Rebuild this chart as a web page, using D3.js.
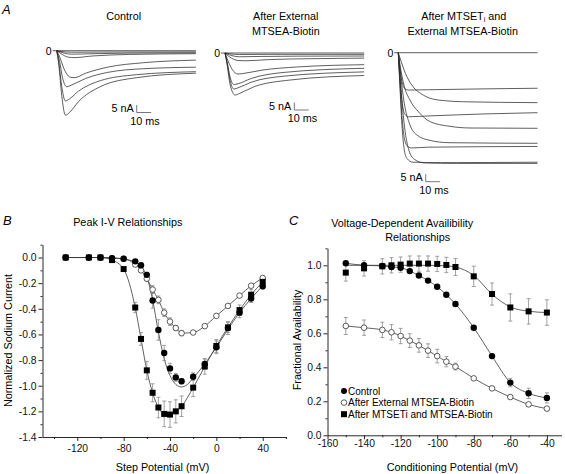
<!DOCTYPE html>
<html><head><meta charset="utf-8">
<script src="https://cdn.jsdelivr.net/npm/d3@7"></script>
<style>body{margin:0;background:#fff}svg{display:block}</style>
</head><body>
<svg id="c" width="565" height="474"></svg>
<script>
// ---------- DATA ----------
// Panel A: current traces [time ms, current nA]
const controlTraces = [
  [[0,0],[96,0]],
  [[0,0],[3,-0.5],[10,-1],[30,-0.9],[96,-0.8]],
  [[0,0],[3,-1],[10,-2.3],[25,-2],[50,-1.6],[96,-1.4]],
  [[0,0],[3,-2],[8,-4.3],[12,-4.6],[25,-3.5],[50,-2.5],[96,-2]],
  [[0,0],[2,-4],[5,-12],[9,-17.5],[12,-18],[20,-15],[35,-11],[60,-8],[96,-6.3]],
  [[0,0],[2,-7],[4,-18],[7,-24],[10,-23],[20,-18.5],[35,-14.5],[60,-12],[96,-11]],
  [[0,0],[1.5,-8],[3.5,-24],[6,-33.5],[9,-32],[15,-27],[30,-20],[55,-16],[96,-14]],
  [[0,0],[1.5,-10],[3.5,-30],[6,-43],[9,-41],[15,-34],[30,-24],[55,-18],[96,-15]]
];
const externalTraces = [
  [[0,0],[96,0]],
  [[0,0],[3,-0.5],[10,-1],[30,-0.9],[96,-0.9]],
  [[0,0],[3,-1.2],[10,-2.5],[25,-2.3],[50,-2.1],[96,-2]],
  [[0,0],[3,-2.5],[9,-5],[14,-5.2],[30,-4.4],[60,-3.8],[96,-3.4]],
  [[0,0],[2,-5],[5,-11],[9,-14],[13,-13.6],[25,-11.5],[50,-9.3],[96,-7.8]],
  [[0,0],[1.5,-6],[3.5,-16],[6,-21],[9,-20.5],[18,-17],[40,-13],[96,-10.2]],
  [[0,0],[1.5,-7],[3.5,-18],[6,-24],[9,-23.2],[18,-19.5],[40,-15.5],[96,-12.6]],
  [[0,0],[1.5,-8],[3.5,-21],[7,-28],[10,-27],[20,-22.5],[45,-18],[96,-15]]
];
const mtsetTraces = [
  [[0,0],[96,0]],
  [[0,0],[1,-9],[2.5,-19],[4.5,-24],[7,-24.9],[20,-24.7],[60,-24.1],[96,-23.7]],
  [[0,0],[2,-6],[5,-14],[10,-22.5],[16,-27.5],[22,-30.4],[32,-32],[45,-32.7],[96,-33.3]],
  [[0,0],[1,-15],[2.5,-32],[4.5,-41],[7,-42.7],[20,-42.2],[60,-40.8],[96,-40]],
  [[0,0],[1.5,-10],[4,-22],[8,-31.5],[14,-39.5],[22,-46],[35,-49],[50,-50.2],[96,-50.4]],
  [[0,0],[1.5,-14],[4,-33],[8,-48],[13,-55],[22,-58.5],[35,-60],[96,-60.4]],
  [[0,0],[1,-18],[2.5,-42],[4,-56],[6,-62],[9,-63.5],[20,-63],[96,-62.5]],
  [[0,0],[1,-20],[2.5,-48],[4,-64],[6,-70.5],[10,-73],[30,-73.3],[96,-73]],
  [[0,0],[1.5,-20],[4,-47],[7,-64],[11,-71],[18,-73.5],[40,-73.8],[96,-73.8]]
];

// Panel B: Peak I-V
const ivVoltage   = [-130,-110,-100,-90,-80,-70,-65,-60,-55,-50,-45,-40,-35,-30,-20,-10,0,10,20,30,40];
const ivControl   = [0,0,0,-0.005,-0.01,-0.03,-0.06,-0.135,-0.335,-0.565,-0.745,-0.865,-0.935,-0.965,-0.93,-0.83,-0.70,-0.55,-0.43,-0.32,-0.225];
const ivControlErr= [0,0,0,0,0,0,0.01,0.02,0.06,0.08,0.06,0.04,0.03,0.02,0.03,0.04,0.05,0.05,0.04,0.03,0.02];
const ivExternal  = [0,0,0,-0.005,-0.01,-0.055,-0.1,-0.165,-0.25,-0.33,-0.43,-0.5,-0.55,-0.59,-0.585,-0.535,-0.455,-0.378,-0.297,-0.22,-0.16];
const ivExternalErr=[0,0,0,0,0,0.01,0.01,0.02,0.03,0.03,0.03,0.03,0.02,0.02,0.01,0.01,0.01,0.01,0.01,0.01,0.01];
const ivMtset     = [0,0,0,-0.02,-0.09,-0.39,-0.635,-0.88,-1.055,-1.17,-1.22,-1.225,-1.2,-1.16,-1.015,-0.85,-0.69,-0.545,-0.41,-0.29,-0.19];
const ivMtsetErr  = [0,0,0,0,0.01,0.04,0.05,0.07,0.07,0.08,0.1,0.1,0.09,0.08,0.07,0.06,0.05,0.04,0.04,0.04,0.03];
const ivFitVoltage= [-130,-100,-90,-80,-75,-70,-65,-60,-55,-50,-45,-40,-35,-30,-25,-20,-10,0,10,20,30,40];
const ivControlFit= [0,0,-0.003,-0.01,-0.02,-0.035,-0.07,-0.15,-0.33,-0.58,-0.79,-0.92,-0.99,-1.01,-0.99,-0.94,-0.83,-0.70,-0.56,-0.43,-0.32,-0.22];
const ivXTicks = [-120,-80,-40,0,40];
const ivYTicks = [0,-0.2,-0.4,-0.6,-0.8,-1.0,-1.2,-1.4];

// Panel C: availability
const avVoltage    = [-150,-140,-130,-125,-120,-115,-110,-105,-100,-95,-90,-80,-70,-60,-50,-40];
const avControl    = [1.012,1.0,0.996,0.99,0.986,0.966,0.94,0.91,0.874,0.827,0.772,0.633,0.466,0.31,0.247,0.22];
const avControlErr = [0.01,0.01,0.01,0.01,0.01,0.01,0.01,0.01,0.01,0.01,0.01,0.01,0.01,0.025,0.03,0.03];
const avExternal   = [0.643,0.633,0.62,0.606,0.584,0.557,0.529,0.498,0.466,0.433,0.404,0.335,0.276,0.225,0.182,0.157];
const avExternalErr= [0.05,0.045,0.045,0.045,0.045,0.04,0.04,0.04,0.04,0.03,0.02,0.01,0.01,0.01,0.01,0.01];
const avMtset      = [0.957,0.982,0.994,1.0,1.004,1.01,1.01,1.01,1.008,1.002,0.99,0.935,0.831,0.752,0.729,0.722];
const avMtsetErr   = [0.05,0.045,0.045,0.045,0.045,0.045,0.045,0.045,0.045,0.045,0.05,0.06,0.065,0.08,0.075,0.075];
const avMtsetFit   = [1.0,1.0,1.0,1.0,1.0,1.0,1.0,1.0,0.999,0.997,0.99,0.94,0.83,0.755,0.73,0.722];
const avXTicks = [-160,-140,-120,-100,-80,-60,-40];
const avYTicks = [0,0.2,0.4,0.6,0.8,1.0];
const legendLabels = ["Control","After External MTSEA-Biotin","After MTSETi and MTSEA-Biotin"];

// ---------- DRAWING ----------
const FONT = "'Liberation Sans', Arial, Helvetica, sans-serif";
const svg = d3.select('#c').attr('font-family', FONT);

// Panel letters
[["A",2,14],["B",3,225],["C",289,225]].forEach(([t,x,y]) =>
  svg.append('text').attr('x',x).attr('y',y).attr('font-size',13).attr('font-style','italic').text(t));

function text(x, y, s, size, anchor) {
  return svg.append('text').attr('x',x).attr('y',y).attr('font-size',size)
    .attr('text-anchor',anchor||'middle').attr('dominant-baseline','central').text(s);
}

// ---- Panel A ----
function tracePanel(traces, x0, y0, bar) {
  const x = d3.scaleLinear().domain([0,96]).range([x0, x0 + 139.2]);
  const y = d3.scaleLinear().domain([0,-80]).range([y0, y0 + 120]);
  const line = d3.line().x(d => x(d[0])).y(d => y(d[1])).curve(d3.curveMonotoneX);
  const g = svg.append('g');
  g.selectAll('path').data(traces).join('path')
    .attr('d', line).attr('fill','none').attr('stroke','#2a2a2a').attr('stroke-width',0.75);
  g.append('line').attr('x1',x0-4).attr('x2',x0).attr('y1',y0).attr('y2',y0).attr('stroke','#333').attr('stroke-width',0.8);
  text(x0-5, y0, '0', 10.5, 'end');
  const vb = y(-5) - y(0), hb = x(10) - x(0);
  const [bx, by] = bar;
  g.append('path').attr('d', `M${bx},${by-vb}V${by}H${bx+hb}`).attr('fill','none').attr('stroke','#555').attr('stroke-width',0.8);
  text(bx-3, by - vb/2 - 0.5, '5 nA', 10.8, 'end');
  text(bx + hb/2 + 1, by + 8, '10 ms', 10.8, 'middle');
}
tracePanel(controlTraces, 56.7, 50.7, [136.7, 112.5]);
tracePanel(externalTraces, 225, 53, [294.3, 110]);
tracePanel(mtsetTraces, 398.3, 52.7, [425.7, 181.7]);

text(123.7, 16, 'Control', 10.8);
text(285.8, 16, 'After External', 10.8);
text(285.8, 31, 'MTSEA-Biotin', 10.8);
const t3 = text(463.8, 16, '', 10.8);
t3.append('tspan').text('After MTSET');
t3.append('tspan').attr('font-size',7).attr('dy',3).text('i');
t3.append('tspan').attr('dy',-3).text(' and');
text(462.8, 31, 'External MTSEA-Biotin', 10.8);

// ---- axes helper ----
function axes(x, y, xMaj, xMin, yMaj, yMin, xPad, yPad, xFmt, yFmt) {
  const [x0] = x.range(); const [y0] = y.range();
  const gx = svg.append('g').attr('transform', `translate(0,${y0})`);
  gx.call(d3.axisBottom(x).tickValues(xMin).tickSize(2).tickSizeOuter(0).tickFormat(''));
  gx.select('.domain').remove();
  const gx2 = svg.append('g').attr('transform', `translate(0,${y0})`)
    .call(d3.axisBottom(x).tickValues(xMaj).tickSize(4).tickSizeOuter(0).tickPadding(xPad).tickFormat(xFmt));
  const gy = svg.append('g').attr('transform', `translate(${x0},0)`);
  gy.call(d3.axisLeft(y).tickValues(yMin).tickSize(2).tickSizeOuter(0).tickFormat(''));
  gy.select('.domain').remove();
  const gy2 = svg.append('g').attr('transform', `translate(${x0},0)`)
    .call(d3.axisLeft(y).tickValues(yMaj).tickSize(4).tickSizeOuter(0).tickPadding(yPad).tickFormat(yFmt));
  [gx, gx2, gy, gy2].forEach(g => {
    g.attr('font-family', FONT).attr('font-size', 10.3);
    g.selectAll('line,path').attr('stroke', '#111').attr('stroke-width', 0.9);
    g.selectAll('text').attr('fill', '#111');
  });
}
const f1 = d => d.toFixed(1);
const f0 = d => String(d);

function errorBars(g, x, y, xs, ys, es) {
  const d = xs.map((v,i) => [v, ys[i], es[i]]).filter(p => p[2] > 0);
  const eg = g.append('g').attr('stroke','#8a8a8a').attr('stroke-width',0.8).attr('fill','none');
  eg.selectAll('path').data(d).join('path')
    .attr('d', p => `M${x(p[0])-2},${y(p[1]+p[2])}H${x(p[0])+2}M${x(p[0])},${y(p[1]+p[2])}V${y(p[1]-p[2])}M${x(p[0])-2},${y(p[1]-p[2])}H${x(p[0])+2}`);
}
function curve(g, x, y, xs, ys) {
  g.append('path').datum(xs.map((v,i) => [v, ys[i]]))
    .attr('d', d3.line().x(d => x(d[0])).y(d => y(d[1])).curve(d3.curveMonotoneX))
    .attr('fill','none').attr('stroke','#3a3a3a').attr('stroke-width',0.8);
}
function markers(g, x, y, xs, ys, kind) {
  const d = xs.map((v,i) => [v, ys[i]]);
  if (kind === 'square') {
    g.append('g').selectAll('rect').data(d).join('rect')
      .attr('x', p => x(p[0]) - 3).attr('y', p => y(p[1]) - 3).attr('width',6).attr('height',6).attr('fill','#000');
  } else if (kind === 'filled') {
    g.append('g').selectAll('circle').data(d).join('circle')
      .attr('cx', p => x(p[0])).attr('cy', p => y(p[1])).attr('r',3.2).attr('fill','#000');
  } else {
    g.append('g').selectAll('circle').data(d).join('circle')
      .attr('cx', p => x(p[0])).attr('cy', p => y(p[1])).attr('r',2.8).attr('fill','#fff')
      .attr('stroke','#333').attr('stroke-width',0.8);
  }
}

// ---- Panel B ----
const xB = d3.scaleLinear().domain([-150,60]).range([42.5,285.9]);
const yB = d3.scaleLinear().domain([-1.4,0.1]).range([437,244.7]);
axes(xB, yB, ivXTicks, [-140,-100,-60,-20,20,60], ivYTicks, [-0.1,-0.3,-0.5,-0.7,-0.9,-1.1,-1.3,0.1], 3.5, 2, f0, f1);
const gB = svg.append('g');
curve(gB, xB, yB, ivVoltage, ivExternal);
curve(gB, xB, yB, ivFitVoltage, ivControlFit);
curve(gB, xB, yB, ivVoltage, ivMtset);
errorBars(gB, xB, yB, ivVoltage, ivExternal, ivExternalErr);
errorBars(gB, xB, yB, ivVoltage, ivControl, ivControlErr);
errorBars(gB, xB, yB, ivVoltage, ivMtset, ivMtsetErr);
markers(gB, xB, yB, ivVoltage, ivExternal, 'open');
markers(gB, xB, yB, ivVoltage, ivControl, 'filled');
markers(gB, xB, yB, ivVoltage, ivMtset, 'square');
text(127.8, 222, 'Peak I-V Relationships', 10.8);
text(162.5, 466.5, 'Step Potential (mV)', 10.8);
text(0, 0, 'Normalized Sodium Current', 10.8).attr('transform', 'translate(7.5,340.5) rotate(-90)');

// ---- Panel C ----
const xC = d3.scaleLinear().domain([-160,-32]).range([327.5,561.5]);
const yC = d3.scaleLinear().domain([0,1.1]).range([435.3,248.3]);
axes(xC, yC, avXTicks, [-150,-130,-110,-90,-70,-50], avYTicks, [0.1,0.3,0.5,0.7,0.9,1.1], 0.5, 2, f0, f1);
const gC = svg.append('g');
curve(gC, xC, yC, avVoltage, avControl);
curve(gC, xC, yC, avVoltage, avExternal);
curve(gC, xC, yC, avVoltage, avMtsetFit);
errorBars(gC, xC, yC, avVoltage, avExternal, avExternalErr);
errorBars(gC, xC, yC, avVoltage, avControl, avControlErr);
errorBars(gC, xC, yC, avVoltage, avMtset, avMtsetErr);
markers(gC, xC, yC, avVoltage, avExternal, 'open');
markers(gC, xC, yC, avVoltage, avControl, 'filled');
markers(gC, xC, yC, avVoltage, avMtset, 'square');
text(402.2, 222.5, 'Voltage-Dependent Availibility', 10.8);
text(417.7, 236.7, 'Relationships', 10.8);
text(452.5, 466.5, 'Conditioning Potential (mV)', 10.8);
text(0, 0, 'Fractional Availability', 10.8).attr('transform', 'translate(296.7,340) rotate(-90)');

// legend
const legY = [391, 402.6, 414.2];
const legKinds = ['filled','open','square'];
legendLabels.forEach((lab, i) => {
  const g = svg.append('g');
  if (legKinds[i] === 'filled') g.append('circle').attr('cx',344).attr('cy',legY[i]).attr('r',3).attr('fill','#000');
  else if (legKinds[i] === 'open') g.append('circle').attr('cx',344).attr('cy',legY[i]).attr('r',2.8).attr('fill','#fff').attr('stroke','#333').attr('stroke-width',0.8);
  else g.append('rect').attr('x',341).attr('y',legY[i]-3).attr('width',6).attr('height',6).attr('fill','#000');
  text(348, legY[i], lab, 10, 'start');
});
</script>
</body></html>
